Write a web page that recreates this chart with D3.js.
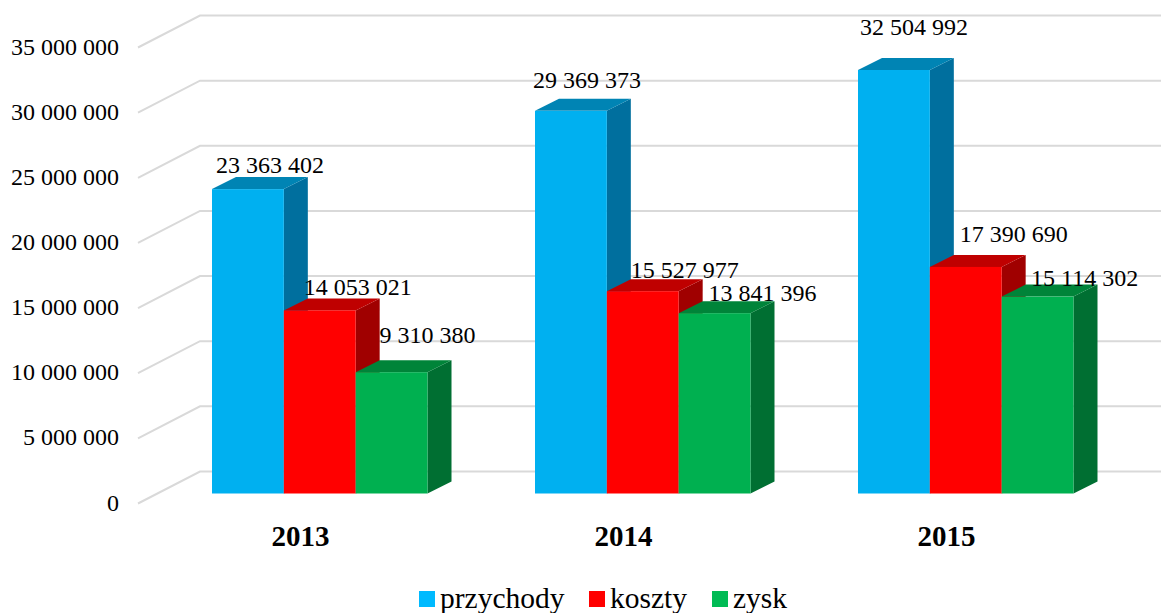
<!DOCTYPE html>
<html><head><meta charset="utf-8">
<script src="https://d3js.org/d3.v7.min.js"></script>
<style>html,body{margin:0;padding:0;background:#fff}svg{display:block}text{font-family:"Liberation Serif",serif;fill:#000}</style>
</head><body><svg id="c" width="1161" height="613"></svg>
<script>
const categories = ["2013","2014","2015"];
const seriesNames = ["przychody","koszty","zysk"];
const przychody = [23363402,29369373,32504992];
const koszty = [14053021,15527977,17390690];
const zysk = [9310380,13841396,15114302];
const seriesValues = [przychody,koszty,zysk];
const yTicks = [0,5000000,10000000,15000000,20000000,25000000,30000000,35000000];
const colors = [
  {front:"#00B0F0",top:"#0084B4",side:"#006F9E",legend:"#00BAFF"},
  {front:"#FF0000",top:"#BF0000",side:"#A00000",legend:"#FF0000"},
  {front:"#00B050",top:"#008439",side:"#006F32",legend:"#00BB55"}
];
// label nudges [dx, dy] relative to each bar's top-centre (series -> year)
const labelNudges = [
  [[22,-24],[16,-31],[20,-43]],
  [[38,-23],[42,-21],[48,-33]],
  [[36,-37],[48,-20],[47,-19]]
];
const fmt = v => d3.format(",d")(v).replace(/,/g," ");

const svg = d3.select("#c");
const y = d3.scaleLinear().domain([0,35000000]).range([493.5,37.5]);
const sub = d3.scaleBand().domain(d3.range(3)).range([0,215.5]);
const groupX = d3.scaleOrdinal().domain(categories).range([212,535,858]);
const barDX = 24, barDY = -12;
const gridBackX = 200, gridFrontX = 138, gridRight = 1161;
const backDY = -22, frontDY = 10;

// gridlines
const g = svg.append("g").attr("fill","none").attr("stroke","#D9D9D9").attr("stroke-width",2);
yTicks.forEach(t=>{
  const yy = y(t);
  g.append("path").attr("d",`M${gridFrontX},${yy+frontDY}L${gridBackX},${yy+backDY}L${gridRight},${yy+backDY}`);
});

// tick labels
svg.append("g").selectAll("text").data(yTicks).join("text")
  .attr("x",119).attr("y",t=>y(t)+frontDY+7)
  .attr("text-anchor","end").attr("font-size",24).text(fmt);

// bars
const bars = svg.append("g");
categories.forEach((c,ci)=>{
  seriesValues.forEach((vals,si)=>{
    const x0 = groupX(c)+sub(si), x1 = x0+sub.bandwidth();
    const yt = y(vals[ci]), yb = y(0);
    const col = colors[si];
    bars.append("path").attr("fill",col.side)
      .attr("d",`M${x1},${yt}L${x1+barDX},${yt+barDY}L${x1+barDX},${yb+barDY}L${x1},${yb}Z`);
    bars.append("path").attr("fill",col.top)
      .attr("d",`M${x0},${yt}L${x0+barDX},${yt+barDY}L${x1+barDX},${yt+barDY}L${x1},${yt}Z`);
    bars.append("rect").attr("fill",col.front)
      .attr("x",x0).attr("y",yt).attr("width",x1-x0).attr("height",yb-yt);
  });
});

// value labels
const labels = svg.append("g");
categories.forEach((c,ci)=>{
  seriesValues.forEach((vals,si)=>{
    const cx = groupX(c)+sub(si)+sub.bandwidth()/2;
    const n = labelNudges[si][ci];
    labels.append("text").attr("x",cx+n[0]).attr("y",y(vals[ci])+n[1]+8)
      .attr("text-anchor","middle").attr("font-size",24).text(fmt(vals[ci]));
  });
});

// category labels
svg.append("g").selectAll("text").data(categories).join("text")
  .attr("x",c=>groupX(c)+88.5).attr("y",546)
  .attr("text-anchor","middle").attr("font-size",29).attr("font-weight","bold").text(c=>c);

// legend
const legendX = [419,589,712], legendTextX = [440,610,733];
const lg = svg.append("g");
seriesNames.forEach((s,i)=>{
  lg.append("rect").attr("x",legendX[i]).attr("y",591).attr("width",16).attr("height",16).attr("fill",colors[i].legend);
  lg.append("text").attr("x",legendTextX[i]).attr("y",607.5).attr("font-size",29.5).text(s);
});
</script></body></html>
